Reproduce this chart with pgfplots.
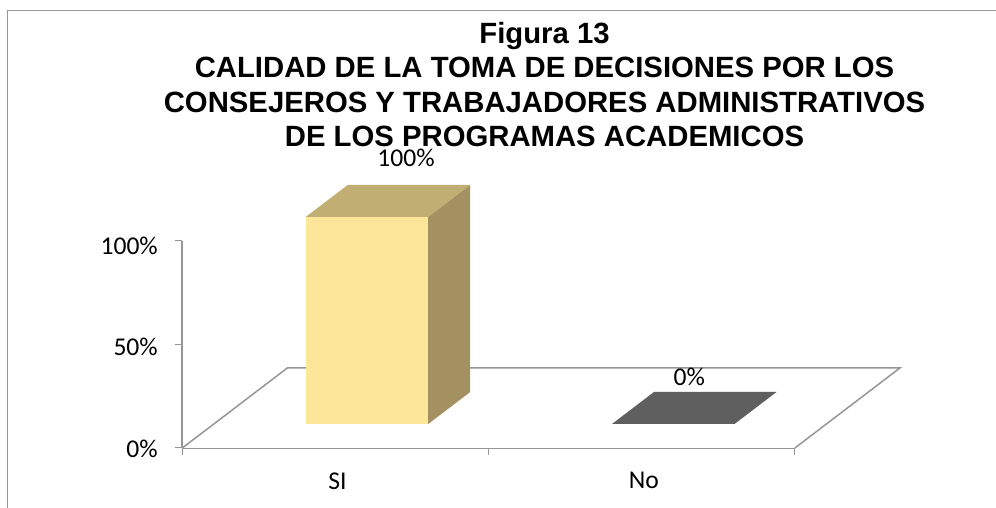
\documentclass[border=0pt]{standalone}
\usepackage{fontspec}
\setmainfont{Carlito}
\newfontfamily\titlefont[Scale=1]{Liberation Sans}
\usepackage{pgfplots}
\pgfplotsset{compat=1.18}
\definecolor{axisgray}{HTML}{969696}
\definecolor{barfront}{HTML}{FDE599}
\definecolor{bartop}{HTML}{C1AE73}
\definecolor{barside}{HTML}{A39161}
\definecolor{nodark}{HTML}{5F5F5F}
\begin{document}
\begin{tikzpicture}[x=1pt,y=1pt]
\useasboundingbox (0,0) rectangle (996,508);
\draw[axisgray,line width=1.5pt] (7.5,0) -- (7.5,497.5) -- (996,497.5);
\node[font=\titlefont\bfseries\fontsize{29.3}{34.3}\selectfont,align=center] at (544.5,423.5) {%
  Figura 13\\
  CALIDAD DE LA TOMA DE DECISIONES POR LOS\\
  CONSEJEROS Y TRABAJADORES ADMINISTRATIVOS\\
  DE LOS PROGRAMAS ACADEMICOS};
\begin{axis}[
  at={(182.3pt,60pt)}, anchor=south west,
  x={(306.3pt,0pt)}, y={(105pt,80pt)}, z={(0pt,2.07pt)},
  xmin=0, xmax=2, ymin=0, ymax=1, zmin=0, zmax=100,
  axis lines*=left,
  axis line style={axisgray,line width=1.8pt,-},
  y axis line style={draw=none},
  clip=false,
  xtick={0.5,1.5}, xticklabels={SI,No},
  ytick=\empty,
  ztick={0,50,100}, zticklabels={0\%,50\%,100\%},
  major tick length=0pt,
  tick style={axisgray,line width=1pt},
  xticklabel style={yshift=-21pt,xshift=8pt},
  zticklabel style={xshift=-21pt,yshift=6pt},
  tick label style={font=\fontsize{25.6}{30}\selectfont},
  /pgf/number format/assume math mode=true,
]
% floor
\addplot3[draw=axisgray,line width=1.5pt,fill=white] coordinates {(0,0,0) (0,1,0) (2,1,0) (2,0,0)};
% SI = 100 %
\addplot3[draw=none,fill=bartop] coordinates {(0.3,0.3,100) (0.3,0.7,100) (0.7,0.7,100) (0.7,0.3,100)} -- cycle;
\addplot3[draw=none,fill=barside] coordinates {(0.7,0.3,0) (0.7,0.7,0) (0.7,0.7,100) (0.7,0.3,100)} -- cycle;
\addplot3[draw=none,fill=barfront] coordinates {(0.3,0.3,0) (0.7,0.3,0) (0.7,0.3,100) (0.3,0.3,100)} -- cycle;
% No = 0 %
\addplot3[draw=none,fill=nodark] coordinates {(1.3,0.3,0) (1.7,0.3,0) (1.7,0.7,0) (1.3,0.7,0)} -- cycle;
% tick marks
\addplot3[axisgray,line width=1pt] coordinates {(0,0,0) (0,0,-3.5)};
\addplot3[axisgray,line width=1pt] coordinates {(1,0,0) (1,0,-3.5)};
\addplot3[axisgray,line width=1pt] coordinates {(2,0,0) (2,0,-3.5)};
\addplot3[axisgray,line width=1pt] coordinates {(0,0,0) (-0.025,0,0)};
\addplot3[axisgray,line width=1pt] coordinates {(0,0,50) (-0.025,0,50)};
\addplot3[axisgray,line width=1pt] coordinates {(0,0,100) (-0.025,0,100)};
\node[font=\fontsize{25.6}{30}\selectfont] at (axis cs:0.5,0.5,100) [xshift=18pt,yshift=43.5pt] {100\%};
\node[font=\fontsize{25.6}{30}\selectfont] at (axis cs:1.5,0.5,0) [xshift=-5pt,yshift=31pt] {0\%};
\end{axis}
\end{tikzpicture}
\end{document}
